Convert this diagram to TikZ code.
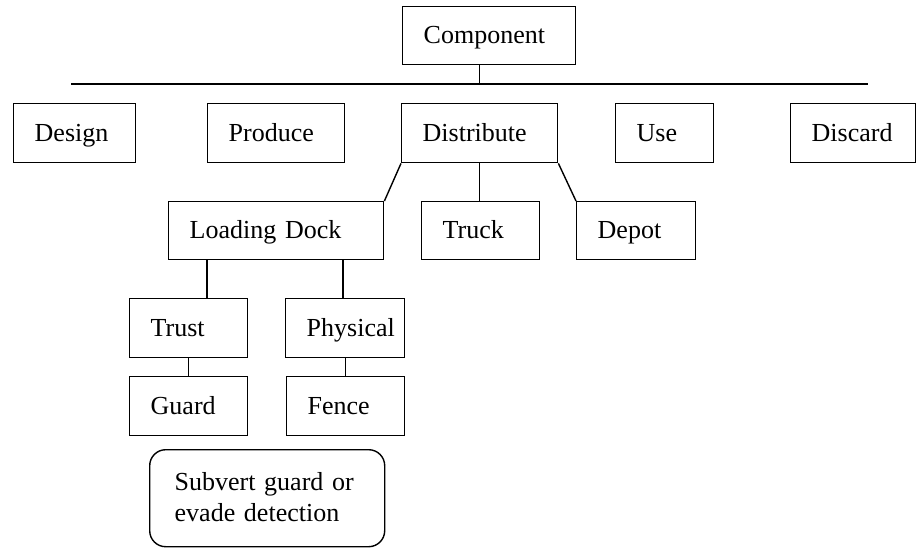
\documentclass[tikz,border=0pt]{standalone}
\usepackage{fontspec}
\setmainfont{Liberation Serif}
\hyphenpenalty=10000
\exhyphenpenalty=10000
\begin{document}
\begin{tikzpicture}[x=1pt,y=-1pt,
  bx/.style={draw,line width=1.4pt,rectangle,anchor=north west,align=left,
    inner xsep=21pt,inner ysep=0pt,text height=20pt,text depth=4pt,
    font=\fontsize{26}{31}\selectfont},
  rbx/.style={bx,rounded corners=16pt,inner xsep=25pt,text depth=35pt},
  link/.style={line width=1.4pt},
  bar/.style={line width=2pt}]
\useasboundingbox (0,0) rectangle (916,547);
% top
\node[bx,text width=131pt,minimum height=58pt] (comp) at (402,6) {Component};
\coordinate (barL) at (71,84);
\coordinate (barR) at (868,84);
% second row
\node[bx,text width=80pt,minimum height=59pt] (design) at (13,103) {Design};
\node[bx,text width=95pt,minimum height=59pt] (produce) at (207,103) {Produce};
\node[bx,text width=114pt,minimum height=59pt] (dist) at (401,103) {Distribute};
\node[bx,text width=56pt,minimum height=59pt] (use) at (615,103) {Use};
\node[bx,text width=83pt,minimum height=59pt] (discard) at (790,103) {Discard};
% third row
\node[bx,text width=173pt,minimum height=58pt] (ld) at (168,201) {Loading Dock};
\node[bx,text width=76pt,minimum height=58pt] (truck) at (421,201) {Truck};
\node[bx,text width=77pt,minimum height=58pt] (depot) at (576,201) {Depot};
% fourth row
\node[bx,text width=76pt,minimum height=59pt] (trust) at (129,298) {Trust};
\node[bx,text width=77pt,minimum height=59pt] (phys) at (285,298) {Physical};
\node[bx,text width=76pt,minimum height=59pt] (guard) at (129,376) {Guard};
\node[bx,text width=76pt,minimum height=59pt] (fence) at (286,376) {Fence};
% rounded
\node[rbx,text width=185pt,minimum height=97pt] (subv) at (149,449) {Subvert guard or\\evade detection};
% connectors
\draw[bar] (barL) -- (barR);
\draw[link] (comp.south -| dist.center) -- (barL -| dist.center);
\draw[link] (dist.south west) -- (ld.north east);
\draw[link] (dist.south) -- (dist.south |- truck.north);
\draw[link] (dist.south east) -- (depot.north west);
\coordinate (ldA) at (207,259);
\coordinate (ldB) at (343,259);
\draw[link] (ldA) -- (ldA |- trust.north);
\draw[link] (ldB) -- (ldB |- phys.north);
\draw[link] (trust.south) -- (guard.north);
\draw[link] (phys.south) -- (phys.south |- fence.north);
\end{tikzpicture}
\end{document}
